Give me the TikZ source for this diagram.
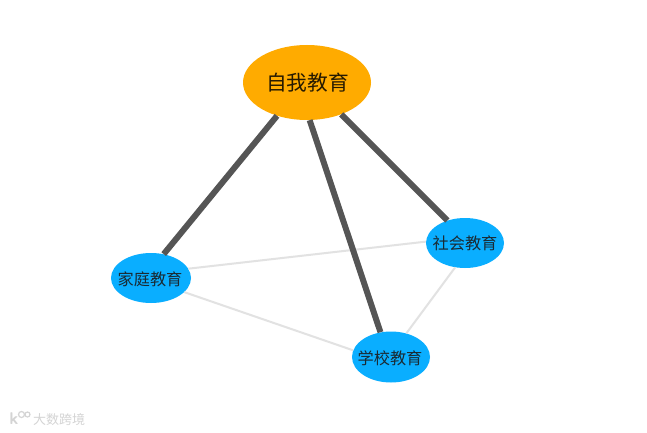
\documentclass[tikz,border=0pt]{standalone}
\usepackage{fontspec}
\newfontfamily\cjk{Noto Sans CJK SC}
\usetikzlibrary{shapes.geometric}
\definecolor{topfill}{HTML}{FFAB00}
\definecolor{subfill}{HTML}{0AAEFF}
\definecolor{strongline}{HTML}{555555}
\definecolor{weakline}{HTML}{E2E2E2}
\definecolor{markgray}{HTML}{D4D4D4}
\definecolor{labeltext}{HTML}{1A2A33}
\tikzset{
  x=1pt,y=-1pt,
  topnode/.style={ellipse,fill=topfill,draw=none,inner sep=0pt,minimum width=128pt,minimum height=75pt},
  subnode/.style={ellipse,fill=subfill,draw=none,inner sep=0pt,minimum width=78pt,minimum height=50pt},
  toplabel/.style={inner sep=0pt,font=\cjk\fontsize{20.7}{22}\selectfont,text=black!85!topfill},
  sublabel/.style={inner sep=0pt,font=\cjk\fontsize{16.2}{18}\selectfont,text=labeltext},
  strong/.style={draw=strongline,line width=6pt},
  weak/.style={draw=weakline,line width=2pt},
  markring/.style={draw=markgray,line width=1.2pt},
  marktext/.style={inner sep=0pt,text=markgray}
}
\begin{document}
\begin{tikzpicture}
\useasboundingbox (0,0) rectangle (647,433);
\fill[white] (0,0) rectangle (647,433);
\node[topnode] (self) at (307,82.5) {};
\node[subnode,minimum width=80pt] (family) at (151,278) {};
\node[subnode,minimum height=51pt] (school) at (391,357) {};
\node[subnode] (society) at (465,243) {};
\draw[weak] (family.14.7) -- (society.178.6);
\draw[weak] (family.-23) -- (school.170);
\draw[weak] (school.57) -- (society.248);
\draw[strong] (self.228.6) -- (family.62.5);
\draw[strong] (self.274.5) -- (school.113);
\draw[strong] (self.317.5) -- (society.128.7);
\node[toplabel] (selftext) at (307.5,83) {自我教育};
\node[sublabel] (familytext) at (150,279) {家庭教育};
\node[sublabel] (schooltext) at (390,358) {学校教育};
\node[sublabel] (societytext) at (465,243) {社会教育};
% watermark
\node[marktext,font=\sffamily\bfseries\fontsize{17}{17}\selectfont] (logok) at (14,419) {k};
\draw[markring] (21.5,414.5) circle (3pt);
\draw[markring] (27.5,414.5) circle (2.5pt);
\node[marktext,anchor=west,font=\cjk\fontsize{13}{15}\selectfont] (marktxt) at (33,420) {大数跨境};
\end{tikzpicture}
\end{document}
